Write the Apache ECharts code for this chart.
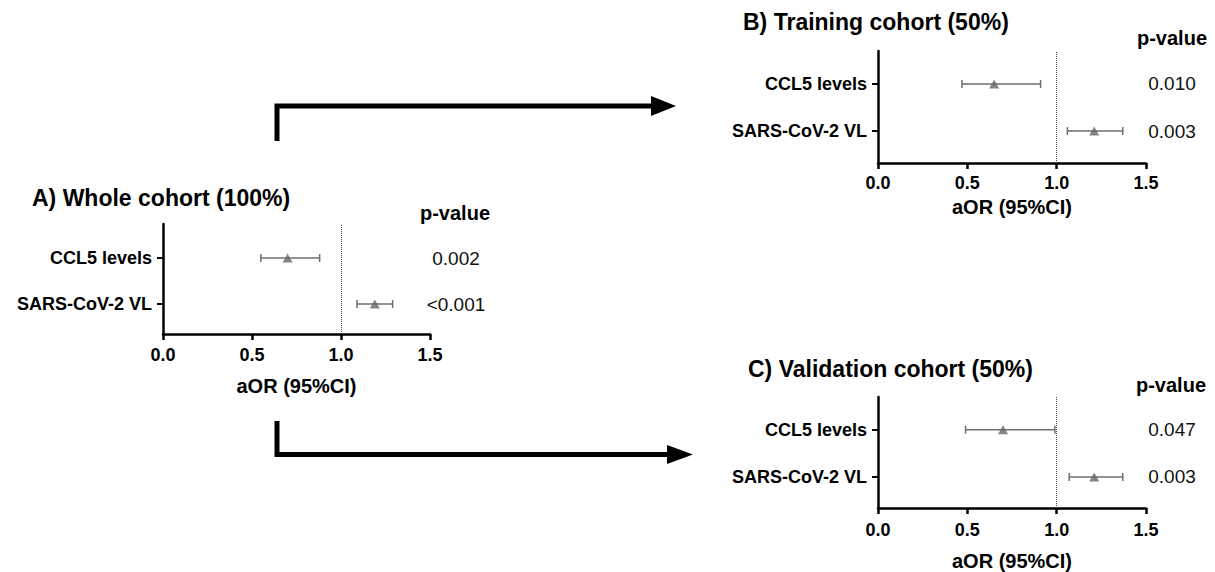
<!DOCTYPE html>
<html>
<head>
<meta charset="utf-8">
<script src="https://cdn.jsdelivr.net/npm/echarts@6/dist/echarts.min.js"></script>
<style>
html,body{margin:0;padding:0;background:#fff;}
#chart{width:1215px;height:572px;}
</style>
</head>
<body>
<div id="chart"></div>
<script>
// ---- data ----
const categories = ['CCL5 levels', 'SARS-CoV-2 VL']; // top to bottom
const xTicks = [0.0, 0.5, 1.0, 1.5];
const panelTitles = ['A) Whole cohort (100%)', 'B) Training cohort (50%)', 'C) Validation cohort (50%)'];
const xAxisName = 'aOR (95%CI)';
const pHeader = 'p-value';

const aorA = [0.70, 1.19];
const lowA = [0.55, 1.09];
const highA = [0.88, 1.29];
const pA = ['0.002', '<0.001'];

const aorB = [0.65, 1.21];
const lowB = [0.47, 1.06];
const highB = [0.91, 1.37];
const pB = ['0.010', '0.003'];

const aorC = [0.70, 1.21];
const lowC = [0.49, 1.07];
const highC = [0.99, 1.37];
const pC = ['0.047', '0.003'];

const refLine = 1.0;

// ---- layout / style ----
const FONT = '"Liberation Sans", Arial, sans-serif';
const panels = [
  {aor: aorA, low: lowA, high: highA, p: pA, grid: {left: 163, top: 224, width: 267, height: 110}, yMin: 0.35, yMax: 2.74, nameGap: 42, lblMargin: 12},
  {aor: aorB, low: lowB, high: highB, p: pB, grid: {left: 878, top: 51, width: 268, height: 112}, yMin: 0.32, yMax: 2.70, nameGap: 34, lblMargin: 11},
  {aor: aorC, low: lowC, high: highC, p: pC, grid: {left: 878, top: 397, width: 268, height: 111}, yMin: 0.345, yMax: 2.69, nameGap: 43, lblMargin: 13}
];
const rowValue = i => categories.length - i; // top row highest
const rowValues = categories.map((c, i) => rowValue(i));

const grids = [], xAxes = [], yAxes = [], series = [];
panels.forEach((pn, k) => {
  grids.push(Object.assign({containLabel: false}, pn.grid));
  xAxes.push({
    type: 'value', gridIndex: k, min: xTicks[0], max: xTicks[xTicks.length - 1], interval: 0.5,
    name: xAxisName, nameLocation: 'middle', nameGap: pn.nameGap,
    nameTextStyle: {fontFamily: FONT, fontWeight: 'bold', fontSize: 20, color: '#000'},
    axisLine: {show: true, lineStyle: {color: '#000', width: 2.5}},
    axisTick: {show: true, length: 6, lineStyle: {color: '#000', width: 2.5}},
    axisLabel: {margin: pn.lblMargin, fontFamily: FONT, fontWeight: 'bold', fontSize: 18, color: '#000', formatter: v => v.toFixed(1)},
    splitLine: {show: false}
  });
  yAxes.push({
    type: 'value', gridIndex: k, min: pn.yMin, max: pn.yMax, position: 'left',
    axisLine: {show: true, onZero: false, lineStyle: {color: '#000', width: 2.5}},
    axisTick: {show: true, length: 6, customValues: rowValues, lineStyle: {color: '#000', width: 2}},
    axisLabel: {show: true, margin: 11, customValues: rowValues, fontFamily: FONT, fontWeight: 'bold', fontSize: 18, color: '#000',
      formatter: v => { const i = categories.length - Math.round(v); return categories[i] || ''; }},
    splitLine: {show: false}
  });
  yAxes.push({
    type: 'value', gridIndex: k, min: pn.yMin, max: pn.yMax, position: 'right',
    axisLine: {show: false}, axisTick: {show: false},
    axisLabel: {show: true, margin: 26, align: 'center', customValues: rowValues, fontFamily: FONT, fontSize: 19, color: '#111',
      formatter: v => { const i = categories.length - Math.round(v); return pn.p[i] || ''; }},
    splitLine: {show: false}
  });
  const yIdx = 2 * k;
  series.push({
    type: 'custom', xAxisIndex: k, yAxisIndex: yIdx, silent: true,
    data: categories.map((c, i) => [pn.low[i], pn.high[i], rowValue(i)]),
    encode: {x: [0, 1], y: 2},
    renderItem: (params, api) => {
      const y = api.value(2);
      const a = api.coord([api.value(0), y]);
      const b = api.coord([api.value(1), y]);
      const h = 4;
      const st = {stroke: '#6e6e6e', lineWidth: 1.5};
      return {type: 'group', children: [
        {type: 'line', shape: {x1: a[0], y1: a[1], x2: b[0], y2: b[1]}, style: st},
        {type: 'line', shape: {x1: a[0], y1: a[1] - h, x2: a[0], y2: a[1] + h}, style: st},
        {type: 'line', shape: {x1: b[0], y1: b[1] - h, x2: b[0], y2: b[1] + h}, style: st}
      ]};
    },
    z: 3
  });
  series.push({
    type: 'scatter', xAxisIndex: k, yAxisIndex: yIdx, silent: true,
    data: categories.map((c, i) => [pn.aor[i], rowValue(i)]),
    symbol: 'triangle', symbolSize: [10, 9],
    itemStyle: {color: '#666'},
    z: 4,
    markLine: {
      silent: true, symbol: ['none', 'none'], label: {show: false},
      lineStyle: {type: 'dotted', color: '#444', width: 1},
      data: [{xAxis: refLine}]
    }
  });
});

const titlePos = [{x: 32, y: 198}, {x: 743, y: 22}, {x: 748, y: 369}];
const headerPos = [{x: 455, y: 213}, {x: 1172, y: 38}, {x: 1171, y: 385}];
const graphic = [];
panelTitles.forEach((t, k) => {
  graphic.push({type: 'text', x: titlePos[k].x, y: titlePos[k].y, style: {text: t, font: 'bold 23px ' + FONT, fill: '#000', textAlign: 'left', textVerticalAlign: 'middle'}});
  graphic.push({type: 'text', x: headerPos[k].x, y: headerPos[k].y, style: {text: pHeader, font: 'bold 20px ' + FONT, fill: '#000', textAlign: 'center', textVerticalAlign: 'middle'}});
});
// connector arrows
graphic.push({type: 'polyline', shape: {points: [[277, 141], [277, 106], [655, 106]]}, style: {stroke: '#000', lineWidth: 5, fill: null, lineJoin: 'miter'}});
graphic.push({type: 'polygon', shape: {points: [[651, 96], [676, 106], [651, 116]]}, style: {fill: '#000'}});
graphic.push({type: 'polyline', shape: {points: [[277, 421], [277, 454.5], [670, 454.5]]}, style: {stroke: '#000', lineWidth: 5, fill: null, lineJoin: 'miter'}});
graphic.push({type: 'polygon', shape: {points: [[667, 445], [693, 454.5], [667, 464]]}, style: {fill: '#000'}});

const chart = echarts.init(document.getElementById('chart'), null, {renderer: 'svg'});
chart.setOption({
  animation: false,
  backgroundColor: '#fff',
  grid: grids, xAxis: xAxes, yAxis: yAxes, series: series, graphic: graphic
});
</script>
</body>
</html>
